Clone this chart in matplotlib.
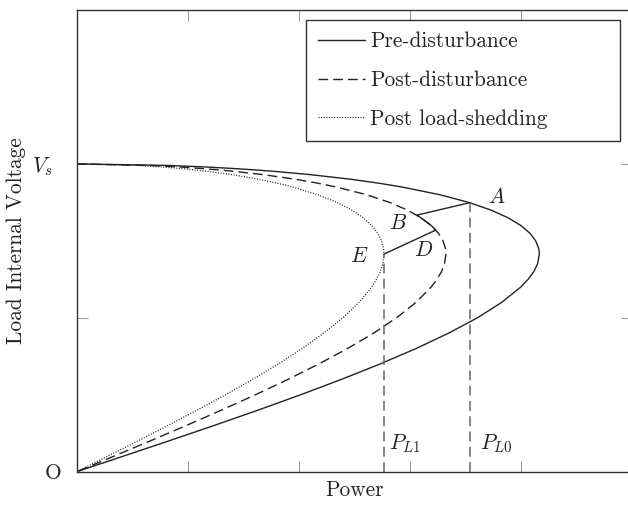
import matplotlib
matplotlib.use("Agg")
import matplotlib.pyplot as plt

plt.rcParams['font.family'] = ['cmr10', 'DejaVu Serif']
plt.rcParams['mathtext.fontset'] = 'cm'
plt.rcParams['axes.unicode_minus'] = False

# voltage samples shared by the three nose curves
voltage = [2.0, 1.99, 1.98, 1.97, 1.96, 1.95, 1.93, 1.9, 1.875, 1.85, 1.8, 1.75,
           1.7, 1.65, 1.6, 1.55, 1.5, 1.45, 1.414, 1.35, 1.3, 1.25, 1.2, 1.1,
           1.0, 0.9, 0.8, 0.7, 0.6, 0.5, 0.4, 0.3, 0.2, 0.1, 0.0]

power_pre = [0.0, 0.828, 1.164, 1.416, 1.625, 1.805, 2.109, 2.472, 2.718, 2.928,
             3.269, 3.530, 3.731, 3.885, 3.999, 4.081, 4.133, 4.161, 4.166, 4.150,
             4.116, 4.065, 3.999, 3.827, 3.608, 3.348, 3.055, 2.732, 2.384, 2.017,
             1.633, 1.236, 0.829, 0.416, 0.0]

power_post = [0.0, 0.661, 0.929, 1.130, 1.297, 1.441, 1.683, 1.973, 2.169, 2.337,
              2.609, 2.817, 2.978, 3.100, 3.192, 3.257, 3.299, 3.321, 3.325, 3.312,
              3.285, 3.245, 3.192, 3.055, 2.880, 2.673, 2.438, 2.180, 1.903, 1.610,
              1.303, 0.986, 0.662, 0.332, 0.0]

power_shed = [0.0, 0.550, 0.773, 0.941, 1.079, 1.199, 1.401, 1.642, 1.805, 1.945,
              2.171, 2.344, 2.478, 2.580, 2.656, 2.710, 2.745, 2.763, 2.767, 2.756,
              2.734, 2.700, 2.656, 2.542, 2.396, 2.224, 2.029, 1.815, 1.584, 1.340,
              1.084, 0.821, 0.551, 0.276, 0.0]

# operating trajectory A -> B -> (along post curve) -> D -> E
path_p = [3.539, 3.062, 3.100, 3.192, 3.234, 2.767]
path_v = [1.748, 1.667, 1.650, 1.600, 1.570, 1.414]

P_L0, V_A = 3.539, 1.748
P_L1, V_E = 2.767, 1.414

point_labels = ['A', 'B', 'D', 'E']
point_x = [3.782, 2.896, 3.121, 2.545]
point_y = [1.787, 1.614, 1.440, 1.402]

fig = plt.figure(figsize=(6.28, 5.11), dpi=100)
ax = fig.add_axes([0.1221, 0.0769, 0.8842, 0.9035])

dark = '#222222'
ax.plot(power_pre, voltage, color=dark, lw=1.0, label='Pre-disturbance')
ax.plot(power_post, voltage, color=dark, lw=1.0, dashes=(7.0, 3.6),
        label='Post-disturbance')
ax.plot(power_shed, voltage, color=dark, lw=0.9, dashes=(0.8, 1.3),
        label='Post load-shedding')

ax.plot(path_p, path_v, color=dark, lw=1.0)

ax.plot([P_L0, P_L0], [0, V_A], color='#666666', lw=1.1, dashes=(6.5, 3.5))
ax.plot([P_L1, P_L1], [0, V_E], color='#666666', lw=1.1, dashes=(6.5, 3.5))

fs = 15.4
for lbl, x, y in zip(point_labels, point_x, point_y):
    ax.text(x, y, f'${lbl}$', fontsize=fs, ha='center', va='center', color=dark)
ax.text(P_L1 + 0.045, 0.185, '$P_{L1}$', fontsize=fs, ha='left', va='center', color=dark)
ax.text(P_L0 + 0.09, 0.185, '$P_{L0}$', fontsize=fs, ha='left', va='center', color=dark)

ax.set_xlim(0, 5)
ax.set_ylim(0, 3)
ax.set_xticks([1, 2, 3, 4])
ax.set_xticklabels([])
ax.set_yticks([0, 1, 2, 3])
ax.set_yticklabels(['O', '', '$V_s$', ''])
ax.tick_params(direction='in', length=8, width=0.75, color='#999999',
               top=True, right=True, labelsize=fs, labelcolor=dark, pad=8)
ticks = ax.yaxis.get_major_ticks()
ticks[0].set_pad(11)
ticks[2].set_pad(17)

for s in ax.spines.values():
    s.set_linewidth(1.0)
    s.set_color('#333333')

ax.set_xlabel('Power', fontsize=fs, color=dark, va='center')
ax.xaxis.set_label_coords(0.5, -0.040)
ax.set_ylabel('Load Internal Voltage', fontsize=fs, color=dark, va='center')
ax.yaxis.set_label_coords(-0.109, 0.5)

leg = ax.legend(loc='upper left', bbox_to_anchor=(0.4129, 0.5, 0.566, 0.4783),
                mode='expand', borderaxespad=0, fontsize=fs, fancybox=False,
                framealpha=1, edgecolor='#333333', handlelength=2.2,
                handletextpad=0.25, borderpad=0.55, labelspacing=0.9)
leg.get_frame().set_linewidth(1.0)
for t in leg.get_texts():
    t.set_color(dark)

fig.savefig('out.png', dpi=100)
